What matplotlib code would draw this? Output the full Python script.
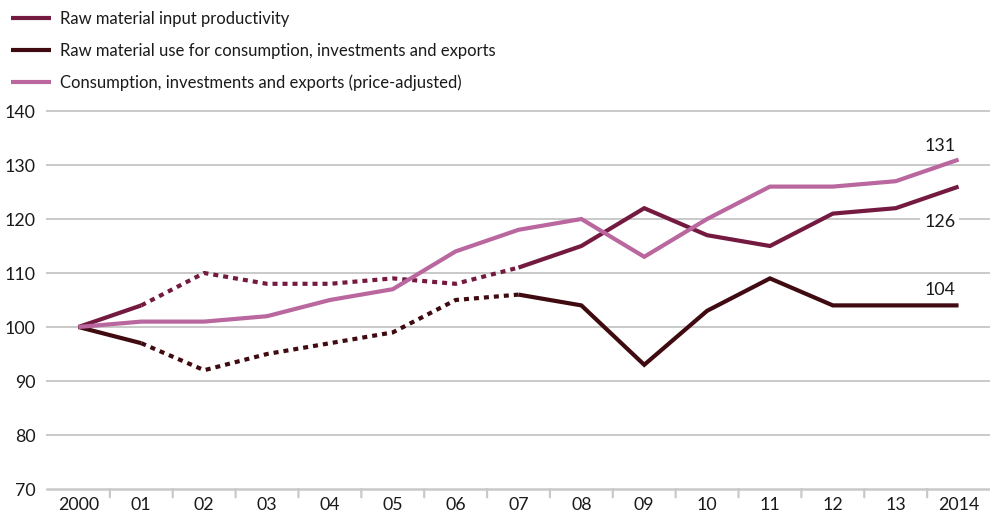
import matplotlib
matplotlib.use("Agg")
import matplotlib.pyplot as plt
from matplotlib.lines import Line2D

plt.rcParams['font.family'] = ['Lato', 'DejaVu Sans']

years = ["2000", "01", "02", "03", "04", "05", "06", "07",
         "08", "09", "10", "11", "12", "13", "2014"]
productivity = [100, 104, 110, 108, 108, 109, 108, 111, 115, 122, 117, 115, 121, 122, 126]
raw_use = [100, 97, 92, 95, 97, 99, 105, 106, 104, 93, 103, 109, 104, 104, 104]
consumption = [100, 101, 101, 102, 105, 107, 114, 118, 120, 113, 120, 126, 126, 127, 131]
# years 2001-2007 are estimated values, drawn dotted
dotted_from, dotted_to = 1, 7

names = ["Raw material input productivity",
         "Raw material use for consumption, investments and exports",
         "Consumption, investments and exports (price-adjusted)"]
colors = ["#741a41", "#3f0a10", "#b9679e"]
yticks = [70, 80, 90, 100, 110, 120, 130, 140]

W, H = 990, 514
fig = plt.figure(figsize=(W / 100, H / 100), dpi=100)
ax = fig.add_axes([47 / W, (H - 489) / H, (990 - 47) / W, (489 - 111) / H])

x = list(range(len(years)))
lw = 3.0
grid_col = "#c9c9c9"
text_col = "#1a1a1a"
fs = 12.8

for yv in yticks:
    ax.axhline(yv, color=grid_col, lw=1.4 if yv != 70 else 1.8, zorder=1, clip_on=False)


def draw(series, col, z, dotted=True):
    if dotted:
        ax.plot(x[:dotted_from + 1], series[:dotted_from + 1], color=col, lw=lw,
                solid_capstyle='butt', zorder=z)
        ax.plot(x[dotted_from:dotted_to + 1], series[dotted_from:dotted_to + 1], color=col,
                lw=lw, linestyle=(0, (1.2, 1.2)), dash_capstyle='butt', zorder=z)
        ax.plot(x[dotted_to:], series[dotted_to:], color=col, lw=lw,
                solid_capstyle='butt', solid_joinstyle='miter', zorder=z)
    else:
        ax.plot(x, series, color=col, lw=lw, solid_capstyle='butt',
                solid_joinstyle='miter', zorder=z)


draw(productivity, colors[0], 3)
draw(raw_use, colors[1], 3)
draw(consumption, colors[2], 4, dotted=False)

ax.set_xlim(-0.5, len(years) - 0.5)
ax.set_ylim(70, 140)
for s in ax.spines.values():
    s.set_visible(False)

ax.set_yticks(yticks)
ax.set_yticklabels([str(v) for v in yticks], fontsize=fs, color=text_col)
ax.tick_params(axis='y', length=0, pad=8)
ax.set_xticks(x)
ax.set_xticklabels(years, fontsize=fs, color=text_col)
ax.tick_params(axis='x', length=0, pad=6)

# boundary tick marks below the baseline
for b in range(1, len(years)):
    ax.annotate("", xy=(b - 0.5, 70), xycoords='data',
                xytext=(0, -6), textcoords='offset points',
                arrowprops=dict(arrowstyle='-', color=grid_col, lw=1.6,
                                shrinkA=0, shrinkB=0))

last = len(years) - 1
ax.text(last - 0.3, consumption[-1] + 2.5, str(consumption[-1]), ha='center', va='center',
        fontsize=fs, color=text_col, zorder=5)
ax.text(last - 0.3, productivity[-1] - 6.5, str(productivity[-1]), ha='center', va='center',
        fontsize=fs, color=text_col, zorder=2,
        bbox=dict(facecolor='white', edgecolor='none', pad=3))
ax.text(last - 0.3, raw_use[-1] + 2.9, str(raw_use[-1]), ha='center', va='center',
        fontsize=fs, color=text_col, zorder=5)

handles = [Line2D([], [], color=c, lw=lw, solid_capstyle='butt') for c in colors]
fig.legend(handles, names, loc='upper left', bbox_to_anchor=(0.0, 1.0),
           frameon=False, fontsize=12, handlelength=2.4, handletextpad=0.55,
           labelspacing=0.95, borderaxespad=0.25, labelcolor=text_col)

fig.savefig("out.png", dpi=100)
